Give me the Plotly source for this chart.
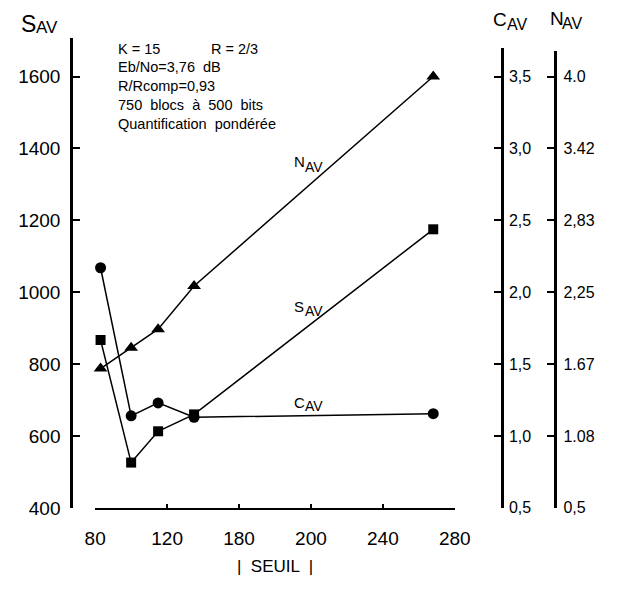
import plotly.graph_objects as go

# ---- data ----
seuil = [83, 100, 115, 135, 268]
s_av = [867, 526, 613, 660, 1175]
c_av = [2.17, 1.14, 1.23, 1.13, 1.155]
n_av = [1.63, 1.80, 1.95, 2.30, 4.0]

x_tickvals = [80, 120, 160, 200, 240, 280]
x_ticktext = ["80", "120", "180", "200", "240", "280"]
s_tickvals = [400, 600, 800, 1000, 1200, 1400, 1600]
c_tickvals = [0.5, 1.0, 1.5, 2.0, 2.5, 3.0, 3.5]
c_ticktext = ["0,5", "1,0", "1,5", "2,0", "2,5", "3,0", "3,5"]
n_tickvals = [0.5, 1.0833, 1.6667, 2.25, 2.8333, 3.4167, 4.0]
n_ticktext = ["0,5", "1.08", "1.67", "2,25", "2,83", "3.42", "4.0"]

info_lines = ["K = 15", "Eb/No=3,76  dB", "R/Rcomp=0,93",
              "750  blocs  à  500  bits", "Quantification  pondérée"]
info_extra = "R = 2/3"
x_title = "|  SEUIL  |"

W, H = 621, 590
FONT = "Liberation Sans, Arial, Helvetica, sans-serif"


def px(x):
    return x / W


def py(y):
    return 1 - y / H


bottom = 517.5
top_tick = 78.0
k = (bottom - top_tick)  # pixels spanning 6 tick intervals
s_rng = [400, 400 + (bottom - 39) / (k / 1200)]
c_rng = [0.5, 0.5 + (bottom - 49) / (k / 3.0)]
n_rng = [0.5, 0.5 + (bottom - 52) / (k / 3.5)]

line = dict(color="black", width=1.5)
fig = go.Figure()
fig.add_trace(go.Scatter(x=seuil, y=c_av, yaxis="y2", mode="lines+markers",
                         line=line, marker=dict(symbol="circle", size=11, color="black"),
                         cliponaxis=False, name="C_AV"))
fig.add_trace(go.Scatter(x=seuil, y=n_av, yaxis="y3", mode="lines+markers",
                         line=line, marker=dict(symbol="triangle-up", size=12, color="black"),
                         cliponaxis=False, name="N_AV"))
fig.add_trace(go.Scatter(x=seuil, y=s_av, yaxis="y", mode="lines+markers",
                         line=line, marker=dict(symbol="square", size=10, color="black"),
                         cliponaxis=False, name="S_AV"))

common = dict(showgrid=False, zeroline=False, showline=True, linecolor="black",
              ticks="inside", tickcolor="black", color="black")

fig.update_layout(
    width=W, height=H, margin=dict(l=0, r=0, t=0, b=0),
    paper_bgcolor="white", plot_bgcolor="rgba(0,0,0,0)",
    showlegend=False, font=dict(family=FONT, color="black"),
    xaxis=dict(domain=[px(88), px(464)], range=[80, 280], anchor="y",
               tickvals=x_tickvals, ticktext=x_ticktext, tickfont=dict(size=19),
               linewidth=2, ticklen=4, tickwidth=1.5, ticklabelstandoff=12,
               **common),
    yaxis=dict(domain=[py(bottom), py(39)], range=s_rng, anchor="free",
               position=px(63), side="left", tickvals=s_tickvals,
               tickfont=dict(size=19), linewidth=3, ticklen=7, tickwidth=1.5,
               ticklabelstandoff=6, **common),
    yaxis2=dict(domain=[py(bottom), py(49)], range=c_rng, anchor="free",
                position=px(513), side="right", tickvals=c_tickvals,
                ticktext=c_ticktext, tickfont=dict(size=16), linewidth=3,
                ticklen=7, tickwidth=1.5, ticklabelstandoff=2, **common),
    yaxis3=dict(domain=[py(bottom), py(52)], range=n_rng, anchor="free",
                position=px(569), side="right", tickvals=n_tickvals,
                ticktext=n_ticktext, tickfont=dict(size=16), linewidth=3,
                ticklen=7, tickwidth=1.5, ticklabelstandoff=3, **common),
)

ann = []


def text(t, x, y, size, anchor="left"):
    ann.append(dict(text=t, x=px(x), y=py(y), xref="paper", yref="paper",
                    xanchor=anchor, yanchor="middle", showarrow=False,
                    font=dict(size=size)))


def sublabel(main, sub, x, y, size_main, size_sub, gap, drop):
    text(main, x, y, size_main)
    text(sub, x + gap, y + drop, size_sub)


# axis titles
sublabel("S", "AV", 8, 24, 23, 17, 16, 4)
sublabel("C", "AV", 502, 20, 19, 16, 14, 5)
sublabel("N", "AV", 561, 19, 19, 16, 13, 5)
text(x_title, 276, 577, 17, anchor="center")

# info block
rows = [50, 68.5, 87.5, 106.5, 126]
for t, r in zip(info_lines, rows):
    text(t, 110, r, 14.5)
text(info_extra, 207, rows[0], 14.5)

# curve labels
sublabel("N", "AV", 294, 165, 15, 14, 11, 5)
sublabel("S", "AV", 294, 312, 15, 14, 11, 5)
sublabel("C", "AV", 294, 410, 15, 14, 11, 4)

fig.update_layout(annotations=ann)
fig.write_html("out.html")
